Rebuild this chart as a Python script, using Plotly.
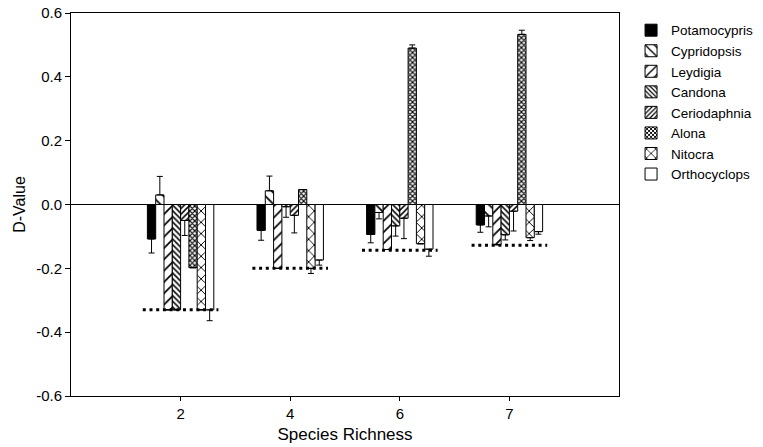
import plotly.graph_objects as go

richness = ["2", "4", "6", "7"]
species = ["Potamocypris", "Cypridopsis", "Leydigia", "Candona",
           "Ceriodaphnia", "Alona", "Nitocra", "Orthocyclops"]

potamocypris = [-0.108, -0.081, -0.094, -0.064]
cypridopsis = [0.030, 0.043, -0.025, -0.036]
leydigia = [-0.330, -0.200, -0.141, -0.126]
candona = [-0.330, -0.007, -0.067, -0.095]
ceriodaphnia = [-0.050, -0.034, -0.043, -0.021]
alona = [-0.198, 0.047, 0.490, 0.533]
nitocra = [-0.330, -0.200, -0.123, -0.104]
orthocyclops = [-0.330, -0.174, -0.140, -0.085]

potamocypris_err = [0.044, 0.031, 0.026, 0.023]
cypridopsis_err = [0.058, 0.046, 0.020, 0.034]
leydigia_err = [0.0, 0.0, 0.0, 0.0]
candona_err = [0.0, 0.033, 0.032, 0.016]
ceriodaphnia_err = [0.047, 0.055, 0.064, 0.062]
alona_err = [0.0, 0.0, 0.010, 0.013]
nitocra_err = [0.0, 0.016, 0.0, 0.009]
orthocyclops_err = [0.034, 0.016, 0.022, 0.008]

expected = [-0.330, -0.200, -0.143, -0.128]

series = [potamocypris, cypridopsis, leydigia, candona,
          ceriodaphnia, alona, nitocra, orthocyclops]
errors = [potamocypris_err, cypridopsis_err, leydigia_err, candona_err,
          ceriodaphnia_err, alona_err, nitocra_err, orthocyclops_err]

styles = [
    dict(color="black", shape="", size=8, sol=0.3),
    dict(color="white", shape="\\", size=8, sol=0.22),
    dict(color="white", shape="/", size=8, sol=0.22),
    dict(color="white", shape="\\", size=4, sol=0.38),
    dict(color="white", shape="/", size=4, sol=0.38),
    dict(color="white", shape="x", size=3.5, sol=0.55),
    dict(color="white", shape="x", size=8, sol=0.22),
    dict(color="white", shape="", size=8, sol=0.3),
]

xpos = [i + 1 for i in range(len(richness))]
FONT = "Liberation Sans, Arial, sans-serif"

fig = go.Figure()
for name, vals, errs, st in zip(species, series, errors, styles):
    up = [e if v >= 0 else 0 for v, e in zip(vals, errs)]
    dn = [e if v < 0 else 0 for v, e in zip(vals, errs)]
    fig.add_trace(go.Bar(
        x=xpos, y=vals, name=name,
        marker=dict(color=st["color"],
                    line=dict(color="black", width=1),
                    pattern=dict(shape=st["shape"], size=st["size"],
                                 solidity=st["sol"], fgcolor="black",
                                 fgopacity=1, bgcolor="white") if st["shape"] else None),
        error_y=dict(type="data", symmetric=False, array=up, arrayminus=dn,
                     color="black", thickness=1, width=3),
    ))

half = 0.345
for xp, ev in zip(xpos, expected):
    fig.add_trace(go.Scatter(
        x=[xp - half, xp + half], y=[ev, ev], mode="lines",
        line=dict(color="black", width=3, dash="3px,3.7px"),
        showlegend=False, hoverinfo="skip"))

yt = [-0.6, -0.4, -0.2, 0.0, 0.2, 0.4, 0.6]
fig.update_layout(
    width=763, height=447,
    barmode="group", bargap=0.394, bargroupgap=0,
    plot_bgcolor="white", paper_bgcolor="white",
    margin=dict(l=71, r=144, t=13, b=51, autoexpand=False),
    font=dict(family=FONT, size=15, color="black"),
    xaxis=dict(range=[0, 5], tickvals=xpos, ticktext=richness,
               showline=True, linecolor="black", linewidth=1, mirror=True,
               ticks="outside", ticklen=4, tickcolor="black",
               showgrid=False, zeroline=False, tickfont=dict(size=15),
               title=dict(text="Species Richness", font=dict(size=17), standoff=7)),
    yaxis=dict(range=[-0.6, 0.6], tickvals=yt,
               ticktext=[f"{v:.1f}" for v in yt], tickfont=dict(size=15),
               showline=True, linecolor="black", linewidth=1, mirror=True,
               ticks="outside", ticklen=5, tickcolor="black",
               showgrid=False, zeroline=True, zerolinecolor="black", zerolinewidth=1,
               title=dict(text="D-Value", font=dict(size=16), standoff=6)),
    legend=dict(x=1.022, y=0.995, xanchor="left", yanchor="top",
                font=dict(size=13.5), bgcolor="rgba(0,0,0,0)",
                itemwidth=30, tracegroupgap=0),
)

fig.write_html("out.html")
